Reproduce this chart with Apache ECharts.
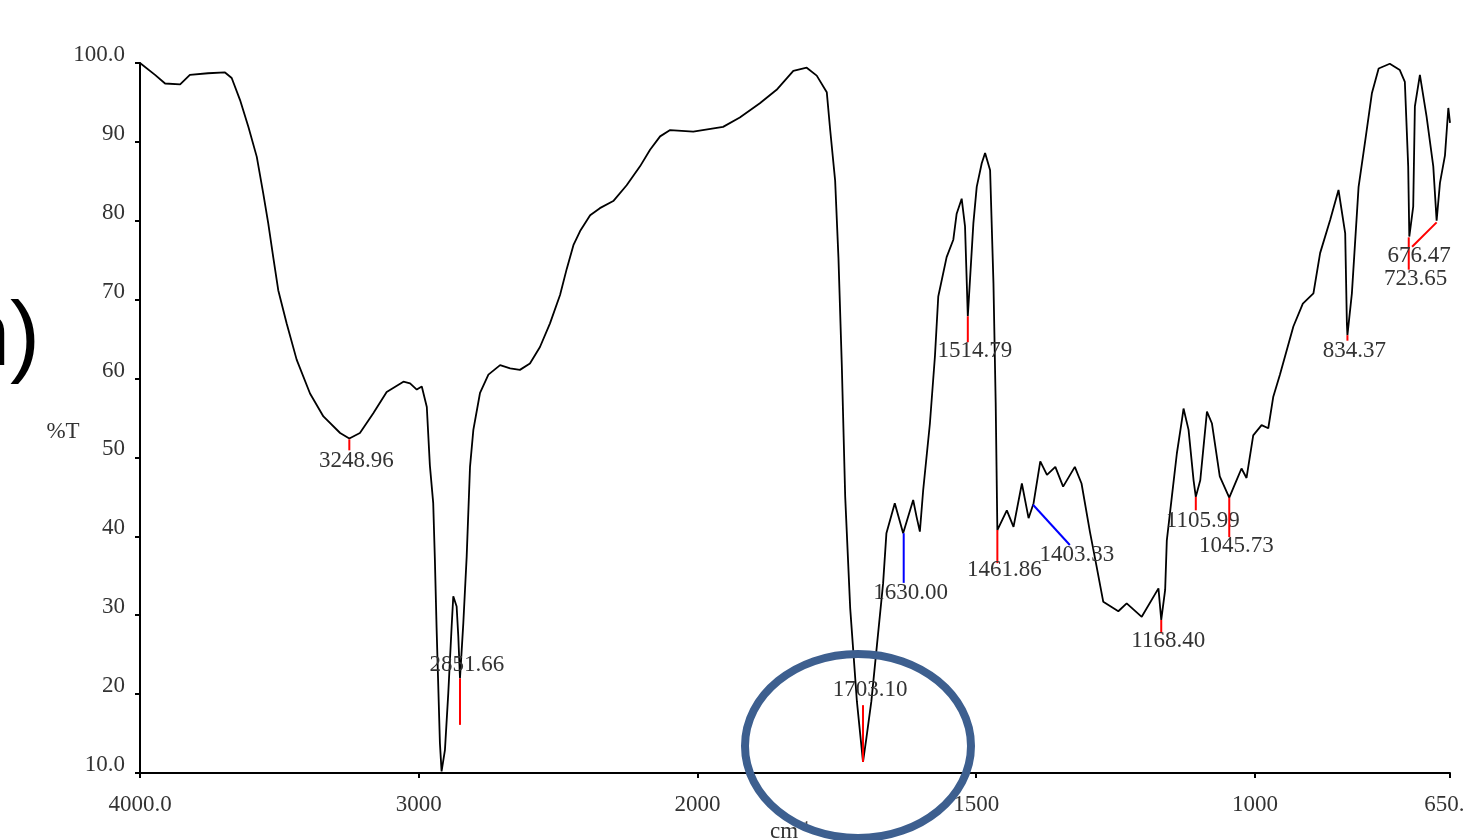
<!DOCTYPE html>
<html>
<head>
<meta charset="utf-8">
<title>IR spectrum</title>
<script src="https://cdn.jsdelivr.net/npm/echarts@6/dist/echarts.min.js"></script>
<style>
  html, body { margin: 0; padding: 0; background: #fff; }
  #main { width: 1463px; height: 840px; }
</style>
</head>
<body>
<div id="main"></div>
<script>
// spectrum (cm-1, %T)
var wavenumber = [
  4000, 3946, 3910, 3856, 3821, 3756, 3695, 3671, 3641, 3611, 3581, 3558, 3540, 3522, 3504,
  3474, 3438, 3390, 3342, 3282, 3249, 3211, 3163, 3115, 3055, 3031, 3007, 2989, 2971, 2960,
  2948, 2942, 2936, 2924, 2918, 2906, 2894, 2882, 2876, 2864, 2858, 2852, 2840, 2828, 2816,
  2804, 2780, 2750, 2708, 2672, 2637, 2601, 2565, 2529, 2493, 2469, 2445, 2421, 2385, 2350,
  2302, 2254, 2206, 2170, 2134, 2098, 2015, 1954, 1924, 1888, 1858, 1828, 1804, 1786, 1768,
  1762, 1753, 1747, 1741, 1735, 1726, 1720, 1714, 1703, 1697, 1688, 1678, 1667, 1661, 1646,
  1631, 1613, 1607, 1601, 1595, 1583, 1574, 1568, 1553, 1541, 1535, 1526, 1520, 1515, 1505,
  1499, 1490, 1484, 1475, 1469, 1465, 1462, 1445, 1433, 1418, 1406, 1397, 1385, 1373, 1358,
  1344, 1323, 1311, 1296, 1284, 1272, 1245, 1230, 1203, 1173, 1168, 1161, 1158, 1149, 1140,
  1131, 1128, 1119, 1110, 1106, 1098, 1086, 1077, 1063, 1046, 1033, 1024, 1015, 1003, 988,
  976, 967, 955, 931, 914, 895, 883, 865, 850, 838, 835, 834, 826, 814, 802,
  790, 778, 758, 740, 731, 725, 723, 716, 713, 704, 692, 680, 674, 668, 659,
  653, 650
];
var transmittance = [
  100.0, 98.5, 97.4, 97.3, 98.5, 98.7, 98.8, 98.1, 95.3, 91.9, 88.1, 83.5, 79.7, 75.4, 71.2,
  67.0, 62.4, 58.1, 55.2, 53.1, 52.4, 53.1, 55.6, 58.3, 59.6, 59.4, 58.6, 59.0, 56.4, 49.0,
  44.2, 37.0, 28.5, 13.8, 10.2, 12.9, 20.1, 28.5, 32.4, 31.1, 27.3, 22.0, 29.0, 37.4, 48.8,
  53.5, 58.2, 60.5, 61.7, 61.3, 61.1, 61.9, 64.0, 67.0, 70.6, 73.9, 76.9, 78.7, 80.7, 81.6,
  82.5, 84.5, 86.9, 89.0, 90.7, 91.5, 91.3, 91.9, 93.1, 94.9, 96.6, 99.0, 99.4, 98.4, 96.3,
  91.6, 85.1, 75.2, 61.6, 45.1, 30.9, 25.0, 19.1, 11.4, 14.4, 19.1, 26.2, 34.0, 40.4, 44.2,
  40.4, 44.6, 42.5, 40.6, 45.9, 54.3, 62.8, 70.4, 75.4, 77.6, 80.9, 82.8, 79.3, 67.9, 79.7,
  84.3, 87.3, 88.6, 86.4, 72.1, 57.0, 40.8, 43.3, 41.2, 46.7, 42.3, 44.2, 49.5, 47.8, 48.8,
  46.3, 48.8, 46.7, 40.6, 36.2, 31.7, 30.5, 31.5, 29.8, 33.4, 29.4, 33.2, 39.5, 45.0, 50.5,
  54.7, 56.2, 53.5, 47.1, 45.0, 47.1, 55.8, 54.3, 47.6, 44.9, 47.1, 48.6, 47.4, 52.8, 54.1,
  53.7, 57.7, 60.5, 66.6, 69.5, 70.8, 75.9, 80.1, 83.9, 78.4, 67.0, 65.5, 70.8, 84.3, 90.2,
  96.2, 99.3, 99.9, 99.1, 97.6, 86.9, 78.0, 81.8, 94.5, 98.5, 93.2, 86.9, 80.0, 84.8, 88.3,
  94.3, 92.4
];

// peak picks: marker from (fromWn, fromT) to (toWn, toT), label centred at labelT
var peakLabels = ['3248.96', '2851.66', '1703.10', '1630.00', '1514.79', '1461.86', '1403.33',
                  '1168.40', '1105.99', '1045.73', '834.37', '723.65', '676.47'];
var peakFromWn = [3249, 2852, 1703, 1630, 1515, 1462, 1398, 1168, 1106, 1046, 834, 724, 674];
var peakFromT  = [52.3, 22.0, 18.6, 40.4, 67.9, 40.8, 44.0, 29.4, 45.0, 44.9, 65.5, 77.9, 79.8];
var peakToWn   = [3249, 2852, 1703, 1630, 1515, 1462, 1332, 1168, 1106, 1046, 834, 724, 718];
var peakToT    = [50.9, 16.1, 11.4, 34.1, 64.6, 36.6, 38.9, 27.7, 43.3, 39.9, 64.8, 73.8, 76.7];
var peakLabelT = [49.5, 23.7, 20.5, 32.8, 63.5, 35.7, 37.6, 26.7, 41.9, 38.8, 63.5, 72.6, 75.5];
var bluePeaks = ['1630.00', '1403.33'];

var xTickLabels = ['4000.0', '3000', '2000', '1500', '1000', '650.0'];
var yTickLabels = ['10.0', '20', '30', '40', '50', '60', '70', '80', '90', '100.0'];

// the wavenumber axis is compressed 2x above 2000 cm-1
function toAxis(w) {
  return w >= 2000 ? (4000 - w) / 2 : 1000 + (2000 - w);
}

var serif = '"Liberation Serif", "Times New Roman", serif';
var labelColor = '#333';

var spectrum = wavenumber.map(function (w, i) { return [toAxis(w), transmittance[i]]; });
var peaks = peakLabels.map(function (l, i) {
  return [toAxis(peakFromWn[i]), peakFromT[i], toAxis(peakToWn[i]), peakToT[i], peakLabelT[i]];
});

var chart = echarts.init(document.getElementById('main'));
chart.setOption({
  animation: false,
  backgroundColor: '#fff',
  grid: { left: 140, right: 13, top: 63, bottom: 67, outerBoundsMode: 'none' },
  xAxis: {
    type: 'value',
    min: 0,
    max: 2350,
    interval: 500,
    splitLine: { show: false },
    axisLine: { onZero: false, lineStyle: { color: '#000', width: 2 } },
    axisTick: { length: 5, lineStyle: { color: '#000', width: 2 } },
    axisLabel: {
      showMinLabel: true,
      showMaxLabel: true,
      margin: 20,
      fontFamily: serif,
      fontSize: 23,
      color: labelColor,
      formatter: function (v, idx) { return xTickLabels[idx]; }
    }
  },
  yAxis: {
    type: 'value',
    min: 10,
    max: 100,
    interval: 10,
    splitLine: { show: false },
    axisLine: { show: true, onZero: false, lineStyle: { color: '#000', width: 2 } },
    axisTick: { show: true, length: 5, lineStyle: { color: '#000', width: 2 } },
    axisLabel: {
      margin: 15,
      fontFamily: serif,
      fontSize: 23,
      lineHeight: 16,
      verticalAlign: 'bottom',
      color: labelColor,
      formatter: function (v, idx) { return yTickLabels[idx]; }
    }
  },
  series: [
    {
      type: 'line',
      data: spectrum,
      showSymbol: false,
      lineStyle: { color: '#000', width: 1.8 },
      z: 3
    },
    {
      type: 'custom',
      data: peaks,
      encode: { x: [0, 2], y: [1, 3, 4] },
      z: 4,
      renderItem: function (params, api) {
        var i = params.dataIndex;
        var a = api.coord([api.value(0), api.value(1)]);
        var b = api.coord([api.value(2), api.value(3)]);
        var t = api.coord([api.value(2), api.value(4)]);
        var c = bluePeaks.indexOf(peakLabels[i]) >= 0 ? '#0000ff' : '#ff0000';
        return {
          type: 'group',
          children: [
            { type: 'line', shape: { x1: a[0], y1: a[1], x2: b[0], y2: b[1] },
              style: { stroke: c, lineWidth: 2 } },
            { type: 'text', x: b[0] + 7, y: t[1],
              style: { text: peakLabels[i], align: 'center', verticalAlign: 'middle',
                       fontFamily: serif, fontSize: 23, fill: labelColor } }
          ]
        };
      }
    }
  ],
  graphic: [
    { type: 'text', x: 63, y: 432,
      style: { text: '%T', align: 'center', verticalAlign: 'middle',
               fontFamily: serif, fontSize: 23, fill: labelColor } },
    { type: 'text', x: 790, y: 832,
      style: { text: '{a|cm}{b|-1}', align: 'center', verticalAlign: 'middle',
               rich: { a: { fontFamily: serif, fontSize: 23, fill: labelColor },
                       b: { fontFamily: serif, fontSize: 14, fill: labelColor, verticalAlign: 'top' } } } },
    { type: 'text', x: 40, y: 340,
      style: { text: 'n)', align: 'right', verticalAlign: 'middle',
               fontFamily: '"Liberation Sans", Arial, sans-serif', fontSize: 90, fill: '#000' } },
    { type: 'ellipse', z: 100,
      shape: { cx: 858, cy: 746, rx: 113, ry: 92 },
      style: { fill: 'transparent', stroke: '#3d5f8f', lineWidth: 8 } }
  ]
});
</script>
</body>
</html>
